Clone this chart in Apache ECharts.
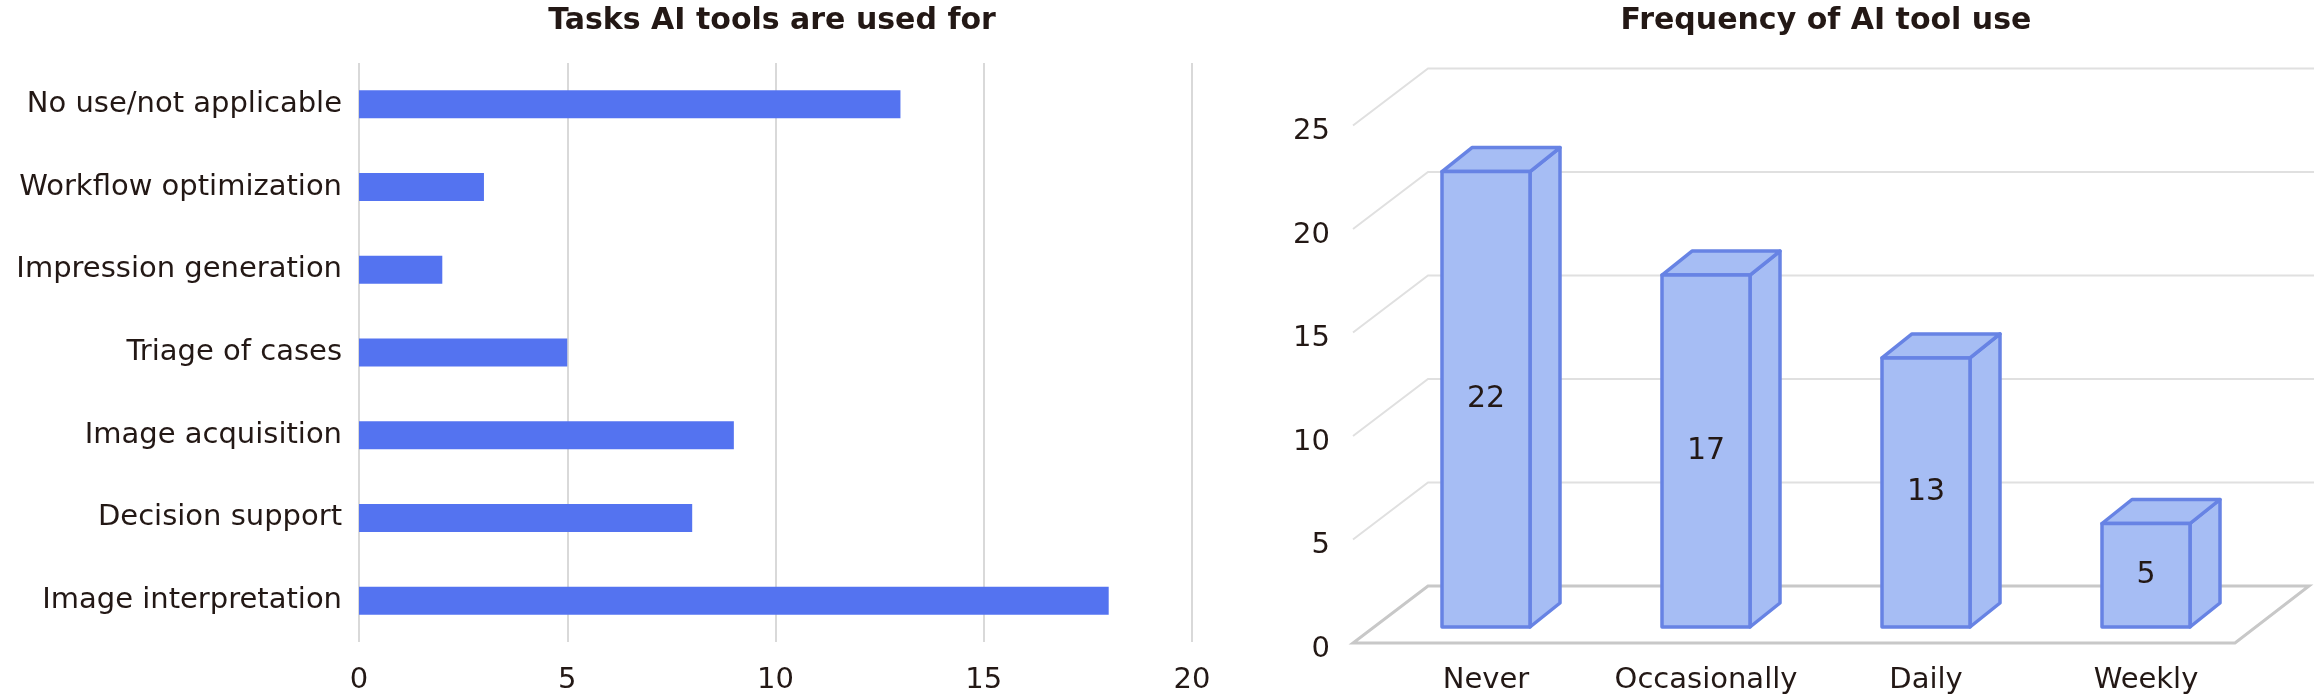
<!DOCTYPE html>
<html>
<head>
<meta charset="utf-8">
<script src="https://cdn.jsdelivr.net/npm/echarts@6/dist/echarts.min.js"></script>
<style>
  html, body { margin: 0; padding: 0; background: #fff; }
  #chart { width: 2314px; height: 700px; }
</style>
</head>
<body>
<div id="chart"></div>
<script>
// left panel: tasks
const taskCategories = ['No use/not applicable', 'Workflow optimization', 'Impression generation',
  'Triage of cases', 'Image acquisition', 'Decision support', 'Image interpretation'];
const taskCounts = [13, 3, 2, 5, 9, 8, 18];

// right panel: frequency
const freqCategories = ['Never', 'Occasionally', 'Daily', 'Weekly'];
const freqCounts = [22, 17, 13, 5];
const freqGridValues = [0, 5, 10, 15, 20, 25];

const FONT = 'DejaVu Sans';
const TEXT = '#231815';

// back wall / floor lines of the fake 3d box
function renderWall(params, api) {
  const cs = params.coordSys;
  const v = api.value(1);
  const y = api.coord([0, v])[1];
  const left = cs.x, right = cs.x + cs.width;
  const fy = y - 6, by = y - 63;
  if (v === 0) {
    return {
      type: 'polygon',
      shape: { points: [[left - 23, fy], [right - 21, fy], [right + 53, by], [left + 52, by]] },
      style: { fill: 'none', stroke: '#c8c8c8', lineWidth: 3 }
    };
  }
  return {
    type: 'polyline',
    shape: { points: [[left - 23, fy], [left + 52, by], [right + 58, by]] },
    style: { fill: 'none', stroke: '#e0e0e0', lineWidth: 2 }
  };
}

// one 3d column: side, top, front and the value in the middle
function renderBox(params, api) {
  const idx = api.value(0);
  const v = api.value(1);
  const top = api.coord([idx, v]);
  const base = api.coord([idx, 0]);
  const half = api.size([1, 0])[0] * 0.2;
  const xl = top[0] - half, xr = top[0] + half;
  const yb = base[1] - 22, yt = top[1] - 22;
  const dx = 30, dy = -24;
  const st = { fill: '#a6bdf4', stroke: '#6783e4', lineWidth: 3.5, lineJoin: 'round' };
  return {
    type: 'group',
    children: [
      { type: 'polygon', shape: { points: [[xr, yt], [xr + dx, yt + dy], [xr + dx, yb + dy], [xr, yb]] }, style: st },
      { type: 'polygon', shape: { points: [[xl, yt], [xl + dx, yt + dy], [xr + dx, yt + dy], [xr, yt]] }, style: st },
      { type: 'rect', shape: { x: xl, y: yt, width: xr - xl, height: yb - yt }, style: st },
      {
        type: 'text',
        style: {
          text: String(v), x: top[0], y: (yt + yb) / 2,
          align: 'center', verticalAlign: 'middle',
          fontSize: 30, fontFamily: FONT, fill: TEXT
        }
      }
    ]
  };
}

const chart = echarts.init(document.getElementById('chart'));
const option = {
  animation: false,
  textStyle: { fontFamily: FONT, color: TEXT },
  title: [{
    text: 'Tasks AI tools are used for',
    left: 772, top: 6, textAlign: 'center', padding: 0,
    textStyle: { fontSize: 30, fontWeight: 'bold', fontFamily: FONT, color: TEXT }
  }, {
    text: 'Frequency of AI tool use',
    left: 1826, top: 6, textAlign: 'center', padding: 0,
    textStyle: { fontSize: 30, fontWeight: 'bold', fontFamily: FONT, color: TEXT }
  }],
  grid: [
    { left: 359, top: 63, width: 833, height: 579, containLabel: false },
    { left: 1376, top: 131.5, width: 880, bottom: 51, containLabel: false }
  ],
  xAxis: [{
    gridIndex: 0, type: 'value', min: 0, max: 20, interval: 5,
    axisLine: { show: false }, axisTick: { show: false },
    axisLabel: { fontSize: 29, color: TEXT, margin: 24 },
    splitLine: { show: true, lineStyle: { color: '#d9d9d9', width: 2 } }
  }, {
    gridIndex: 1, type: 'category', data: freqCategories,
    axisLine: { show: false }, axisTick: { show: false },
    axisLabel: { fontSize: 29, color: TEXT, margin: 17, interval: 0 },
    splitLine: { show: false }
  }],
  yAxis: [{
    gridIndex: 0, type: 'category', data: taskCategories, inverse: true,
    axisLine: { show: false }, axisTick: { show: false },
    axisLabel: { fontSize: 29, color: TEXT, margin: 17, interval: 0 },
    splitLine: { show: false }
  }, {
    gridIndex: 1, type: 'value', min: 0, max: 25, interval: 5,
    axisLine: { show: false }, axisTick: { show: false },
    axisLabel: { fontSize: 29, color: TEXT, margin: 46 },
    splitLine: { show: false }
  }],
  series: [{
    type: 'bar',
    xAxisIndex: 0, yAxisIndex: 0,
    data: taskCounts,
    barWidth: 28,
    itemStyle: { color: '#5473f0' }
  }, {
    type: 'custom',
    xAxisIndex: 1, yAxisIndex: 1,
    renderItem: renderWall,
    data: freqGridValues.map(v => [0, v]),
    silent: true, z: 1
  }, {
    type: 'custom',
    xAxisIndex: 1, yAxisIndex: 1,
    renderItem: renderBox,
    data: freqCounts.map((v, i) => [i, v]),
    z: 2
  }]
};
chart.setOption(option);
</script>
</body>
</html>
